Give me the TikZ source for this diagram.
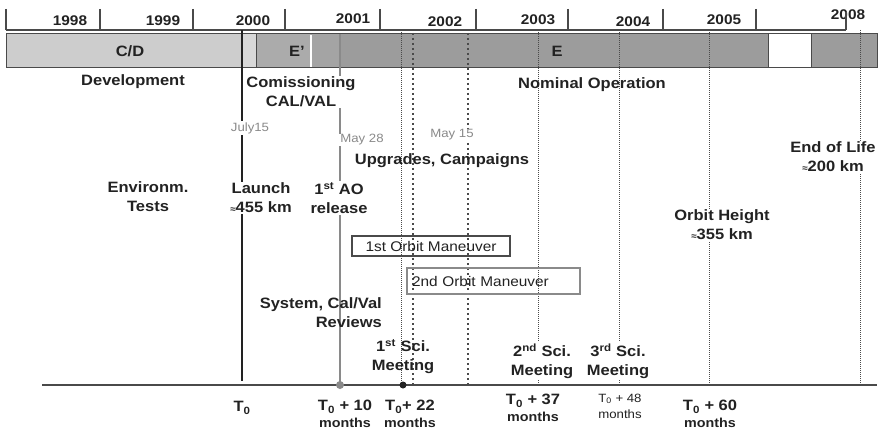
\documentclass[tikz,border=0pt]{standalone}
\usepackage{fontspec}
\setmainfont{Liberation Sans}[FakeStretch=1.1]
\usetikzlibrary{positioning}
\definecolor{ink}{HTML}{222222}
\definecolor{cdgray}{HTML}{CDCDCD}
\definecolor{lightgray}{HTML}{D8D8D8}
\definecolor{epgray}{HTML}{ABABAB}
\definecolor{midgray}{HTML}{A4A4A4}
\definecolor{egray}{HTML}{9C9C9C}
\definecolor{edge}{HTML}{4A4A4A}
\definecolor{dategray}{HTML}{8A8A8A}
\newcommand\monthsfont{\bfseries\fontsize{13}{14}\selectfont}

\begin{document}
\begin{tikzpicture}[x=1pt, y=-1pt,
  lbl/.style={font=\bfseries\fontsize{15}{19}\selectfont, align=center, inner sep=1pt, text=ink},
  wlbl/.style={lbl, fill=white},
  yr/.style={font=\bfseries\fontsize{14}{15}\selectfont, text=ink, inner sep=1pt},
  datelbl/.style={font=\fontsize{12}{13}\selectfont, text=dategray, fill=white, inner sep=1pt},
  mnv/.style={draw=edge, line width=1.2pt, font=\fontsize{14}{15}\selectfont, text=ink, inner sep=0pt},
  tlbl/.style={lbl, font=\bfseries\fontsize{15}{17}\selectfont},
  thindot/.style={edge, line width=0.8pt, dash pattern=on 1pt off 1pt},
  thickdot/.style={edge, line width=1.8pt, dash pattern=on 1.8pt off 3.2pt},
  tick/.style={edge, line width=1.2pt}]
\useasboundingbox (0,0) rectangle (883,433);

% year ruler
\coordinate (rulerL) at (6,30);
\coordinate (rulerR) at (846,30);
\draw[tick] (rulerL) -- (rulerR);
\foreach \x in {6,100,193,285,380,476,568,663,756} {
  \draw[tick] (\x,9) -- (\x,30);
}
\node[yr] (y1998) at (70,21) {1998};
\node[yr] (y1999) at (163,21) {1999};
\node[yr] (y2000) at (253,21) {2000};
\node[yr] (y2001) at (353,19) {2001};
\node[yr] (y2002) at (445,22) {2002};
\node[yr] (y2003) at (538,20) {2003};
\node[yr] (y2004) at (633,22) {2004};
\node[yr] (y2005) at (724,20) {2005};
\node[yr] (y2008) at (848,15) {2008};
\draw[tick] (846,12) -- (846,30);

% phase bar
\fill[cdgray] (6,34) rectangle (242,68);
\fill[lightgray] (242,34) rectangle (256,68);
\fill[epgray] (256,34) rectangle (311,68);
\fill[midgray] (311,34) rectangle (340,68);
\fill[egray] (340,34) rectangle (768,68);
\fill[egray] (811,34) rectangle (877,68);
\draw[edge, line width=1pt] (6,34) rectangle (877,68);
\draw[edge, line width=1pt] (256,34) -- (256,68);
\draw[white, line width=1.2pt] (311,35) -- (311,67);
\draw[edge, line width=1pt] (768,34) -- (768,68) (811,34) -- (811,68);
\node[lbl] (cd) at (130,51) {C/D};
\node[lbl] (ep) at (297,51) {E'};
\node[lbl] (e) at (557,51) {E};

% time markers
\coordinate (launchT) at (242,30);
\coordinate (launchB) at (242,381);
\coordinate (aoT) at (340,34);
\coordinate (aoB) at (340,385);
\draw[ink, line width=2pt] (launchT) -- (launchB);
\draw[dategray, line width=1.3pt] (aoT) -- (aoB);
\foreach \x/\n in {401/a, 538/b, 619/c, 709/d, 860/e} {
  \coordinate (top\n) at (\x,30);
  \coordinate (bot\n) at (\x,385);
  \draw[thindot] (top\n) -- (bot\n);
}
\foreach \x/\n in {413/f, 468/g} {
  \coordinate (top\n) at (\x,33);
  \coordinate (bot\n) at (\x,385);
  \draw[thickdot] (top\n) -- (bot\n);
}

% bottom axis
\coordinate (axisL) at (42,385);
\coordinate (axisR) at (877,385);
\draw[edge, line width=1.4pt] (axisL) -- (axisR);
\fill[dategray] (aoB) circle (4);
\fill[ink] (403,385) circle (3.5);

% phase labels
\node[lbl] (dev) at (133,82) {Development};
\node[wlbl] (com) at (301,92) {Comissioning\\CAL/VAL};
\node[lbl] (nom) at (592,85) {Nominal Operation};

% dates
\node[datelbl] (july) at (250,128) {July15};
\node[datelbl] (may28) at (362,140) {May 28};
\node[datelbl] (may15) at (452,135) {May 15};

% events
\node[lbl] (upg) at (442,161) {Upgrades, Campaigns};
\node[lbl] (env) at (148,197) {Environm.\\Tests};
\node[wlbl] (launch) at (261,198) {Launch\\{\small≈}455 km};
\node[wlbl] (ao) at (339,198) {1\textsuperscript{st} AO\\release};
\node[wlbl] (eol) at (833,157) {End of Life\\{\small≈}200 km};
\node[wlbl] (orbit) at (722,225) {Orbit Height\\{\small≈}355 km};
\node[mnv, minimum width=158pt, minimum height=20pt] (m1) at (431,246) {1st Orbit Maneuver};
\node[mnv, draw=dategray, minimum width=173pt, minimum height=26pt, text width=163pt, align=left] (m2) at (493.5,281) {2nd Orbit Maneuver};
\node[lbl, align=right, anchor=east] (sys) at (383,313) {System, Cal/Val\\Reviews};
\node[lbl] (sci1) at (403,357) {1\textsuperscript{st} Sci.\\Meeting};
\node[wlbl] (sci2) at (542,361) {2\textsuperscript{nd} Sci.\\Meeting};
\node[wlbl] (sci3) at (618,361) {3\textsuperscript{rd} Sci.\\Meeting};

% months after launch
\node[tlbl] (t0) at (242,408) {T\textsubscript{0}};
\node[tlbl] (t10) at (345,414) {T\textsubscript{0} + 10\\{\monthsfont months}};
\node[tlbl] (t22) at (410,414) {T\textsubscript{0}+ 22\\{\monthsfont months}};
\node[tlbl] (t37) at (533,408) {T\textsubscript{0} + 37\\{\monthsfont months}};
\node[lbl, font=\fontsize{12}{16}\selectfont] (t48) at (620,406) {T\textsubscript{0} + 48\\months};
\node[tlbl] (t60) at (710,414) {T\textsubscript{0} + 60\\{\monthsfont months}};
\end{tikzpicture}
\end{document}
